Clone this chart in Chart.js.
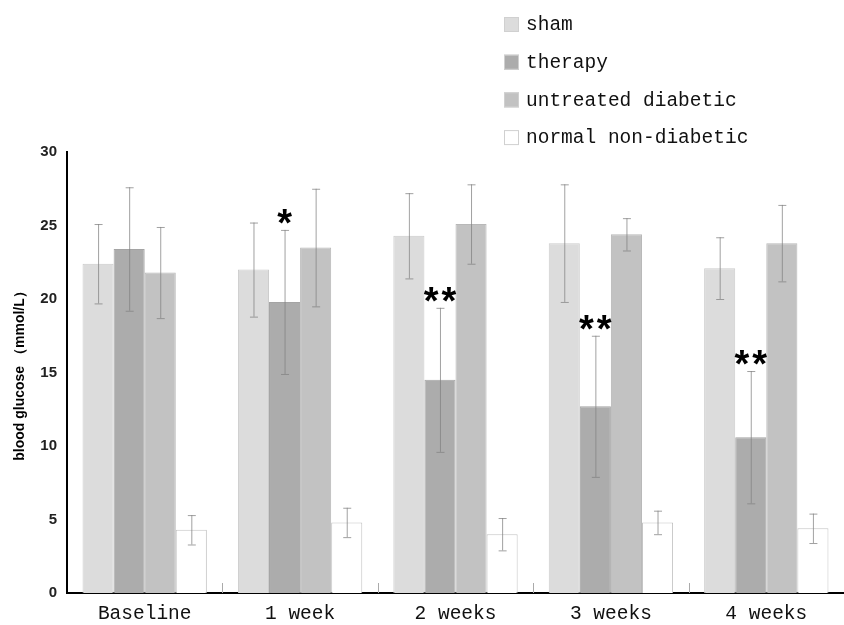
<!DOCTYPE html>
<html>
<head>
<meta charset="utf-8">
<script src="https://cdn.jsdelivr.net/npm/chart.js@4"></script>
<style>
  html, body { margin: 0; padding: 0; background: #fff; }
  #wrap { width: 844px; height: 625px; }
</style>
</head>
<body>
<div id="wrap"><canvas id="barChart"></canvas></div>
<script>
var categories = ["Baseline", "1 week", "2 weeks", "3 weeks", "4 weeks"];
var seriesNames = ["sham", "therapy", "untreated diabetic", "normal non-diabetic"];

var sham = [22.4, 22.0, 24.3, 23.8, 22.1];
var therapy = [23.4, 19.8, 14.5, 12.7, 10.6];
var untreated = [21.8, 23.5, 25.1, 24.4, 23.8];
var normal = [4.3, 4.8, 4.0, 4.8, 4.4];

var shamErr = [2.7, 3.2, 2.9, 4.0, 2.1];
var therapyErr = [4.2, 4.9, 4.9, 4.8, 4.5];
var untreatedErr = [3.1, 4.0, 2.7, 1.1, 2.6];
var normalErr = [1.0, 1.0, 1.1, 0.8, 1.0];

var therapySig = ["", "*", "**", "**", "**"];

var yTicks = [0, 5, 10, 15, 20, 25, 30];

var monoFont = "'Liberation Mono', 'DejaVu Sans Mono', monospace";

// error bars + asterisks + small boundary ticks on the x axis
var extras = {
    id: 'extras',
    afterDatasetsDraw: function (chart) {
        var ctx = chart.ctx;
        var y = chart.scales.y;
        var x = chart.scales.x;
        ctx.save();
        chart.data.datasets.forEach(function (ds, di) {
            var meta = chart.getDatasetMeta(di);
            meta.data.forEach(function (bar, i) {
                var v = ds.data[i], e = ds.errors[i];
                var top = y.getPixelForValue(v + e);
                var bot = y.getPixelForValue(v - e);
                ctx.strokeStyle = 'rgba(130,130,130,0.75)';
                ctx.lineWidth = 1;
                ctx.beginPath();
                ctx.moveTo(bar.x + 0.5, top);
                ctx.lineTo(bar.x + 0.5, bot);
                ctx.moveTo(bar.x - 3.5, top + 0.5);
                ctx.lineTo(bar.x + 4.5, top + 0.5);
                ctx.moveTo(bar.x - 3.5, bot + 0.5);
                ctx.lineTo(bar.x + 4.5, bot + 0.5);
                ctx.stroke();
                if (ds.sig && ds.sig[i]) {
                    ctx.fillStyle = '#000';
                    ctx.font = "bold 38px 'Liberation Sans', Arial, sans-serif";
                    ctx.letterSpacing = '3px';
                    ctx.textAlign = 'center';
                    ctx.textBaseline = 'alphabetic';
                    ctx.fillText(ds.sig[i], bar.x + 1.5, top + 6);
                    ctx.letterSpacing = '0px';
                }
            });
        });
        // small marks between categories
        ctx.strokeStyle = '#aaa';
        ctx.lineWidth = 1;
        ctx.beginPath();
        for (var i = 0; i < categories.length; i++) {
            var bx = (x.getPixelForValue(i) + x.getPixelForValue(i + 1)) / 2;
            bx = Math.round(bx) + 0.5;
            ctx.moveTo(bx, y.bottom);
            ctx.lineTo(bx, y.bottom - 10);
        }
        ctx.stroke();
        ctx.restore();
    },
    afterDraw: function (chart) {
        // legend top right
        var ctx = chart.ctx;
        ctx.save();
        ctx.font = "19.5px " + monoFont;
        ctx.textBaseline = 'middle';
        ctx.textAlign = 'left';
        chart.data.datasets.forEach(function (ds, di) {
            var cy = 24 + di * 37.7;
            ctx.fillStyle = ds.backgroundColor;
            ctx.fillRect(504, cy - 7, 15, 15);
            ctx.strokeStyle = '#d0d0d0';
            ctx.lineWidth = 1;
            ctx.strokeRect(504.5, cy - 6.5, 14, 14);
            ctx.fillStyle = '#111';
            ctx.fillText(ds.label, 526, cy + 1);
        });
        ctx.restore();
    }
};

var ctx = document.getElementById("barChart");

var myChart = new Chart(ctx, {
    type: 'bar',
    data: {
        labels: categories,
        datasets: [{
            label: seriesNames[0],
            data: sham,
            errors: shamErr,
            backgroundColor: '#dcdcdc',
            borderColor: '#cccccc',
            borderWidth: 1
        }, {
            label: seriesNames[1],
            data: therapy,
            errors: therapyErr,
            sig: therapySig,
            backgroundColor: '#acacac',
            borderColor: '#a4a4a4',
            borderWidth: 1
        }, {
            label: seriesNames[2],
            data: untreated,
            errors: untreatedErr,
            backgroundColor: '#c2c2c2',
            borderColor: '#b8b8b8',
            borderWidth: 1
        }, {
            label: seriesNames[3],
            data: normal,
            errors: normalErr,
            backgroundColor: '#ffffff',
            borderColor: '#c4c4c4',
            borderWidth: 1
        }]
    },
    options: {
        responsive: true,
        maintainAspectRatio: false,
        animation: false,
        layout: { padding: { top: 152, right: 0, left: 0, bottom: 0 } },
        plugins: {
            legend: { display: false },
            tooltip: { enabled: false }
        },
        datasets: {
            bar: { categoryPercentage: 0.8, barPercentage: 1.0 }
        },
        scales: {
            x: {
                z: 1,
                grid: { display: false, drawTicks: false },
                border: { display: true, color: '#000', width: 2 },
                ticks: {
                    color: '#111',
                    padding: 9,
                    font: { family: monoFont, size: 19.5 }
                },
                afterFit: function (scale) { scale.height = 32; }
            },
            y: {
                z: 1,
                min: 0,
                max: 30,
                afterBuildTicks: function (scale) {
                    scale.ticks = yTicks.map(function (v) { return { value: v }; });
                },
                grid: { display: false, drawTicks: false },
                border: { display: true, color: '#000', width: 2 },
                ticks: {
                    color: '#222',
                    padding: 10,
                    font: { family: "'Liberation Sans Narrow', 'Liberation Sans', Arial, sans-serif", size: 15, weight: 'bold' }
                },
                title: {
                    display: true,
                    text: 'blood glucose （mmol/L）',
                    color: '#000',
                    padding: { top: 12, bottom: 4 },
                    font: { family: "'Liberation Sans', Arial, sans-serif", size: 14, weight: 'bold' }
                },
                afterFit: function (scale) { scale.width = 67; }
            }
        }
    },
    plugins: [extras]
});
</script>
</body>
</html>
